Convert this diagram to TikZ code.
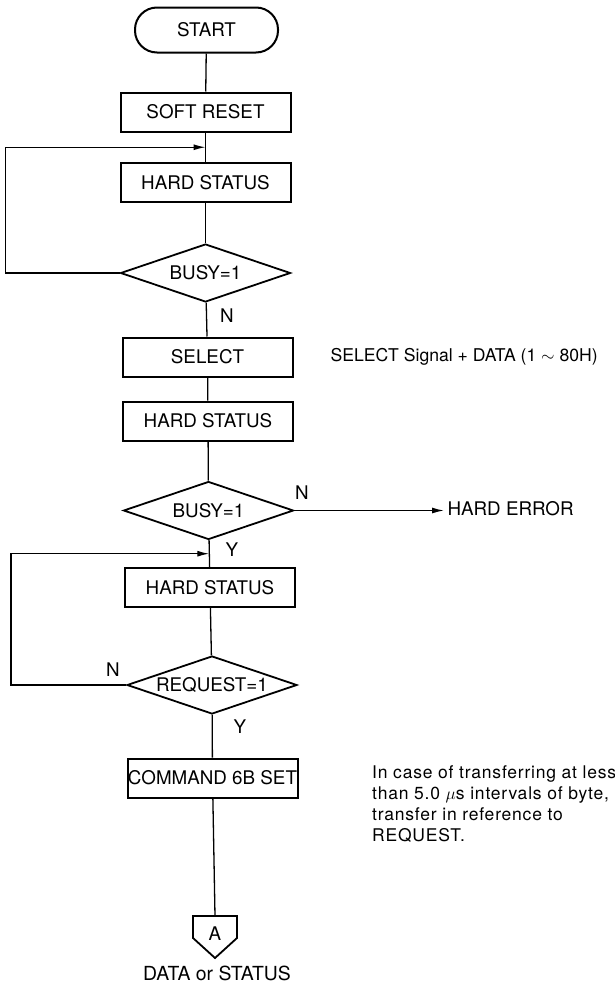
\documentclass[tikz,border=0pt]{standalone}
\usepackage{fontspec}
\setmainfont{TeX Gyre Heros}
\newfontfamily\notefont[LetterSpace=4.5]{TeX Gyre Heros}
\usetikzlibrary{arrows.meta,shapes.geometric,calc}

\begin{document}
\begin{tikzpicture}[x=1pt,y=-1pt,
        every node/.style={font=\fontsize{18.8}{22}\selectfont},
        proc/.style={draw,line width=2pt,minimum width=170pt,minimum height=39pt,inner sep=0pt},
        test/.style={draw,diamond,aspect=3,line width=1.8pt,minimum width=170pt,minimum height=58pt,inner sep=0pt},
        flow/.style={line width=1.3pt},
        tip/.style={-{Latex[length=12pt,width=6pt]}}]
                \useasboundingbox (0,0) rectangle (615,983);

                % main column
                \node[draw,line width=2pt,rounded corners=22pt,minimum width=143pt,minimum height=45pt] (start) at (206.5,30) {START};
                \node[proc] (soft) at (205.5,112) {SOFT RESET};
                \node[proc] (hs1) at (205.5,182.5) {HARD STATUS};
                \node[test] (busy1) at (205.5,273) {BUSY=1};
                \node[proc] (select) at (207.5,357) {SELECT};
                \node[proc] (hs2) at (208,421) {HARD STATUS};
                \node[test] (busy2) at (208.5,510.5) {BUSY=1};
                \node[proc] (hs3) at (210,587.5) {HARD STATUS};
                \node[test] (req) at (212,685) {REQUEST=1};
                \node[proc] (cmd) at (212.5,778) {COMMAND 6B SET};
                \node (conA) at (215,934) {A};
                \coordinate (atop) at ($(conA)+(0,-18)$);
                \draw[line width=1.8pt] (atop) -- ++(22,0) -- ++(0,22) -- ++(-22,20) -- ++(-22,-20) -- ++(0,-22) -- cycle;
                \node[inner sep=0pt,font=\fontsize{19.4}{22}\selectfont] (dat) at (217,973) {DATA or STATUS};

                % loop-back points
                \coordinate (j1) at ($(soft.south)!0.5!(hs1.north)$);
                \coordinate (j2) at ($(busy2.south)!0.5!(hs3.north)$);

                \draw[flow] (start) -- (soft);
                \draw[flow] (soft) -- (hs1);
                \draw[flow] (hs1) -- (busy1);
                \draw[flow] (busy1) -- (select);
                \draw[flow] (select) -- (hs2);
                \draw[flow] (hs2) -- (busy2);
                \draw[flow] (busy2) -- (hs3);
                \draw[flow] (hs3) -- (req);
                \draw[flow] (req) -- (cmd);
                \draw[flow] (cmd) -- (atop);

                \draw[flow,tip] (busy1.west) -- ++(-114,0) |- (j1);
                \draw[flow,tip] (req.west) -- ++(-115,0) |- (j2);

                \node[anchor=west] (herr) at (444,509) {HARD ERROR};
                \draw[flow,tip] (busy2.east) -- (busy2.east -| herr.west);

                % branch labels
                \node at (227,316) {N};
                \node at (302,493) {N};
                \node at (232,550) {Y};
                \node at (113,670) {N};
                \node at (240,727) {Y};

                % notes
                \node[anchor=west,font=\fontsize{17.6}{22}\selectfont] (snote) at (327,357) {SELECT Signal + DATA (1 $\sim$ 80H)};
                \node[anchor=north west,align=left,inner sep=0pt,font=\notefont\fontsize{17.5}{21}\selectfont] (tnote) at (372,765)
                {In case of transferring at less\\than 5.0 $\mu$s intervals of byte,\\transfer in reference to\\REQUEST.};
\end{tikzpicture}
\end{document}
